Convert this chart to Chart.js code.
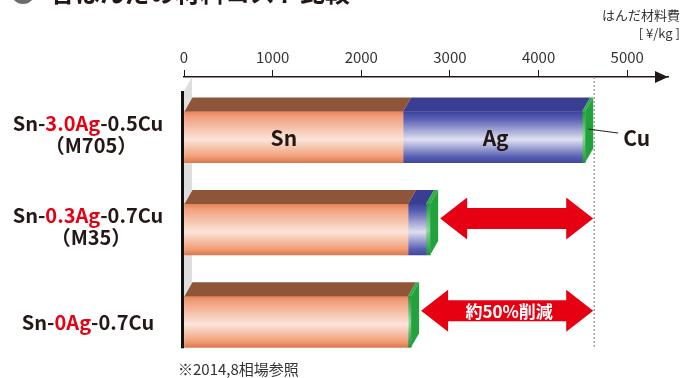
<!DOCTYPE html>
<html>
<head>
<meta charset="utf-8">
<script src="https://cdn.jsdelivr.net/npm/chart.js@4/dist/chart.umd.min.js"></script>
<style>
html, body { margin: 0; padding: 0; background: #fff; }
</style>
</head>
<body>
<canvas id="grafica" width="682" height="378"></canvas>
<script>
// Datos (¥/kg)
const filas = [1, 2, 3];
const etiquetasFila = [
    ['Sn-', '3.0Ag', '-0.5Cu'],
    ['Sn-', '0.3Ag', '-0.7Cu'],
    ['Sn-', '0Ag', '-0.7Cu']
];
const subEtiquetas = ['（M705）', '（M35）', ''];
const valoresSn = [2472, 2528, 2528];
const valoresAg = [2020, 203, 0];
const valoresCu = [34, 46, 34];
const ticksX = [0, 1000, 2000, 3000, 4000, 5000];
const nombresSerie = ['Sn', 'Ag', 'Cu'];

const FUENTE = '"Noto Sans CJK JP", "Noto Sans", sans-serif';
const TEXTO = '#231815';
const ROJO = '#e60012';
const DX = 8;   // profundidad 3D
const DY = 14;
const GROSOR = 51;

function degradado(paradas) {
    return function(c) {
        const chart = c.chart;
        if (!chart.scales.y || !c.raw) return paradas[2][1];
        const yc = chart.scales.y.getPixelForValue(c.raw.y);
        if (!isFinite(yc)) return paradas[2][1];
        const g = chart.ctx.createLinearGradient(0, yc - GROSOR / 2, 0, yc + GROSOR / 2);
        paradas.forEach(p => g.addColorStop(p[0], p[1]));
        return g;
    };
}

function serie(valores) {
    return filas.map((f, i) => ({ x: valores[i], y: f }));
}

const colorSn = degradado([[0, '#e5845a'], [0.1, '#f09f7a'], [0.55, '#fbe5da'], [0.88, '#f19f78'], [1, '#dc784d']]);
const colorAg = degradado([[0, '#3a429d'], [0.15, '#5a61b3'], [0.55, '#dfe0f2'], [0.88, '#5b62b4'], [1, '#3f47a2']]);
const colorCu = degradado([[0, '#1f9b38'], [0.5, '#8fd69a'], [1, '#1c9434']]);
const colorTapa = ['#8f5539', '#393e90', '#2fae45'];
const colorLado = '#22a23b';

// Caras superior y lateral de las barras, etiquetas, flechas
const pluginTresD = {
    id: 'tresD',
    beforeDatasetsDraw(chart) {
        const ctx = chart.ctx;
        const x0 = chart.scales.x.getPixelForValue(0);
        const top = chart.chartArea.top;
        const fondo = chart.scales.y.getPixelForValue(3) + GROSOR / 2 + 1;
        ctx.save();
        // pared gris
        ctx.fillStyle = '#dedede';
        ctx.beginPath();
        ctx.moveTo(x0, top + DY);
        ctx.lineTo(x0 + DX, top);
        ctx.lineTo(x0 + DX, fondo - DY);
        ctx.lineTo(x0, fondo);
        ctx.closePath();
        ctx.fill();
        // línea negra del eje
        ctx.fillStyle = '#111';
        ctx.fillRect(x0 - 3, top + DY, 3, fondo - top - DY);
        ctx.restore();
    },
    afterDatasetsDraw(chart) {
        const ctx = chart.ctx;
        const sx = chart.scales.x;
        const sy = chart.scales.y;
        ctx.save();
        const finFila = filas.map(() => null);
        chart.data.datasets.forEach((ds, d) => {
            const meta = chart.getDatasetMeta(d);
            meta.data.forEach((el, i) => {
                const izq = Math.min(el.base, el.x);
                const der = Math.max(el.base, el.x);
                if (der - izq < 0.5) return;
                const arriba = el.y - el.height / 2;
                ctx.fillStyle = colorTapa[d];
                ctx.beginPath();
                ctx.moveTo(izq, arriba);
                ctx.lineTo(der, arriba);
                ctx.lineTo(der + DX, arriba - DY);
                ctx.lineTo(izq + DX, arriba - DY);
                ctx.closePath();
                ctx.fill();
                finFila[i] = el;
            });
        });
        // cara lateral del último segmento
        finFila.forEach(el => {
            if (!el) return;
            const der = Math.max(el.base, el.x);
            const arriba = el.y - el.height / 2;
            const abajo = el.y + el.height / 2;
            ctx.fillStyle = colorLado;
            ctx.beginPath();
            ctx.moveTo(der, arriba);
            ctx.lineTo(der + DX, arriba - DY);
            ctx.lineTo(der + DX, abajo - DY);
            ctx.lineTo(der, abajo);
            ctx.closePath();
            ctx.fill();
        });

        const totales = filas.map((f, i) => valoresSn[i] + valoresAg[i] + valoresCu[i]);
        const xRef = sx.getPixelForValue(totales[0]) + DX;

        // línea punteada de referencia
        ctx.strokeStyle = '#a0a0a0';
        ctx.lineWidth = 1.5;
        ctx.setLineDash([2, 2]);
        ctx.beginPath();
        ctx.moveTo(xRef + 1, chart.chartArea.top);
        ctx.lineTo(xRef + 1, sy.getPixelForValue(3) + GROSOR / 2 + 2);
        ctx.stroke();
        ctx.setLineDash([]);

        // flechas rojas
        [1, 2].forEach(i => {
            const xa = sx.getPixelForValue(totales[i]) + DX + 2;
            const xb = xRef;
            const yc = sy.getPixelForValue(filas[i]) - 11;
            const cabeza = 27, alto = 21, eje = 10.5;
            ctx.fillStyle = ROJO;
            ctx.beginPath();
            ctx.moveTo(xa, yc);
            ctx.lineTo(xa + cabeza, yc - alto);
            ctx.lineTo(xa + cabeza, yc - eje);
            ctx.lineTo(xb - cabeza, yc - eje);
            ctx.lineTo(xb - cabeza, yc - alto);
            ctx.lineTo(xb, yc);
            ctx.lineTo(xb - cabeza, yc + alto);
            ctx.lineTo(xb - cabeza, yc + eje);
            ctx.lineTo(xa + cabeza, yc + eje);
            ctx.lineTo(xa + cabeza, yc + alto);
            ctx.closePath();
            ctx.fill();
            if (i === 2) {
                ctx.fillStyle = '#fff';
                ctx.font = 'bold 17px ' + FUENTE;
                ctx.textAlign = 'center';
                ctx.textBaseline = 'middle';
                ctx.fillText('約50%削減', (xa + xb) / 2 + 2, yc + 1);
            }
        });

        // nombres de los segmentos en la primera fila
        ctx.fillStyle = TEXTO;
        ctx.font = 'bold 21px ' + FUENTE;
        ctx.textAlign = 'center';
        ctx.textBaseline = 'middle';
        const y1 = sy.getPixelForValue(filas[0]);
        const e0 = chart.getDatasetMeta(0).data[0];
        const e1 = chart.getDatasetMeta(1).data[0];
        const e2 = chart.getDatasetMeta(2).data[0];
        ctx.fillText(nombresSerie[0], (e0.base + e0.x) / 2 - 10, y1 + 1);
        ctx.fillText(nombresSerie[1], (e1.base + e1.x) / 2 + 3, y1 + 1);
        ctx.textAlign = 'left';
        ctx.fillText(nombresSerie[2], e2.x + 38, y1 + 1);
        ctx.strokeStyle = '#222';
        ctx.lineWidth = 1;
        ctx.beginPath();
        ctx.moveTo(e2.x + 3, y1 - 8);
        ctx.lineTo(e2.x + 33, y1 - 4);
        ctx.stroke();

        // etiquetas de filas (con color)
        filas.forEach((f, i) => {
            const yc = sy.getPixelForValue(f);
            const partes = etiquetasFila[i];
            ctx.font = 'bold 20px ' + FUENTE;
            ctx.textAlign = 'left';
            ctx.textBaseline = 'middle';
            const ancho = partes.reduce((a, p) => a + ctx.measureText(p).width, 0);
            let x = 88 - ancho / 2;
            const yt = subEtiquetas[i] ? yc - 14 : yc + 1;
            partes.forEach((p, k) => {
                ctx.fillStyle = k === 1 ? ROJO : TEXTO;
                ctx.fillText(p, x, yt);
                x += ctx.measureText(p).width;
            });
            if (subEtiquetas[i]) {
                ctx.fillStyle = TEXTO;
                ctx.textAlign = 'center';
                ctx.fillText(subEtiquetas[i], 91, yc + 8);
            }
        });
        ctx.restore();
    },
    afterDraw(chart) {
        const ctx = chart.ctx;
        const area = chart.chartArea;
        ctx.save();
        // punta de flecha del eje X
        ctx.fillStyle = TEXTO;
        ctx.beginPath();
        ctx.moveTo(area.right - 13, area.top - 6);
        ctx.lineTo(area.right, area.top);
        ctx.lineTo(area.right - 13, area.top + 6);
        ctx.closePath();
        ctx.fill();
        // título (recortado arriba)
        ctx.fillStyle = '#6b6b6b';
        ctx.beginPath();
        ctx.arc(23, -8, 12, 0, Math.PI * 2);
        ctx.fill();
        ctx.fillStyle = TEXTO;
        ctx.font = 'bold 25px ' + FUENTE;
        ctx.textAlign = 'left';
        ctx.textBaseline = 'alphabetic';
        ctx.fillText('各はんだの材料コスト比較', 50, 2);
        // unidad
        ctx.font = '13px ' + FUENTE;
        ctx.textAlign = 'right';
        ctx.textBaseline = 'middle';
        ctx.fillStyle = '#333';
        ctx.fillText('はんだ材料費', 680, 15);
        ctx.fillText('[ ¥/kg ]', 680, 33);
        // nota
        ctx.textAlign = 'left';
        ctx.font = '15px ' + FUENTE;
        ctx.fillText('※2014,8相場参照', 178, 369);
        ctx.restore();
    }
};

const ctx = document.getElementById('grafica').getContext('2d');
new Chart(ctx, {
    type: 'bar',
    data: {
        datasets: [
            { label: nombresSerie[0], data: serie(valoresSn), backgroundColor: colorSn },
            { label: nombresSerie[1], data: serie(valoresAg), backgroundColor: colorAg },
            { label: nombresSerie[2], data: serie(valoresCu), backgroundColor: colorCu }
        ]
    },
    options: {
        indexAxis: 'y',
        responsive: false,
        devicePixelRatio: 1,
        animation: false,
        barThickness: GROSOR,
        layout: { padding: { left: 184, right: 14, top: 37, bottom: 10 } },
        plugins: { legend: { display: false }, tooltip: { enabled: false }, title: { display: false } },
        scales: {
            x: {
                type: 'linear',
                position: 'top',
                stacked: true,
                min: 0,
                max: 5460,
                afterBuildTicks: s => { s.ticks = ticksX.map(v => ({ value: v })); },
                afterFit: s => { s.height = 40; },
                grid: { drawOnChartArea: false, drawTicks: true, tickLength: 7, color: TEXTO, lineWidth: 1 },
                border: { display: true, color: TEXTO, width: 1.5 },
                ticks: {
                    color: '#333',
                    padding: 4,
                    font: { family: FUENTE, size: 15 },
                    callback: v => String(v)
                }
            },
            y: {
                type: 'linear',
                stacked: true,
                reverse: true,
                offset: false,
                min: 0.35,
                max: 3.5,
                display: false
            }
        }
    },
    plugins: [pluginTresD]
});
</script>
</body>
</html>
